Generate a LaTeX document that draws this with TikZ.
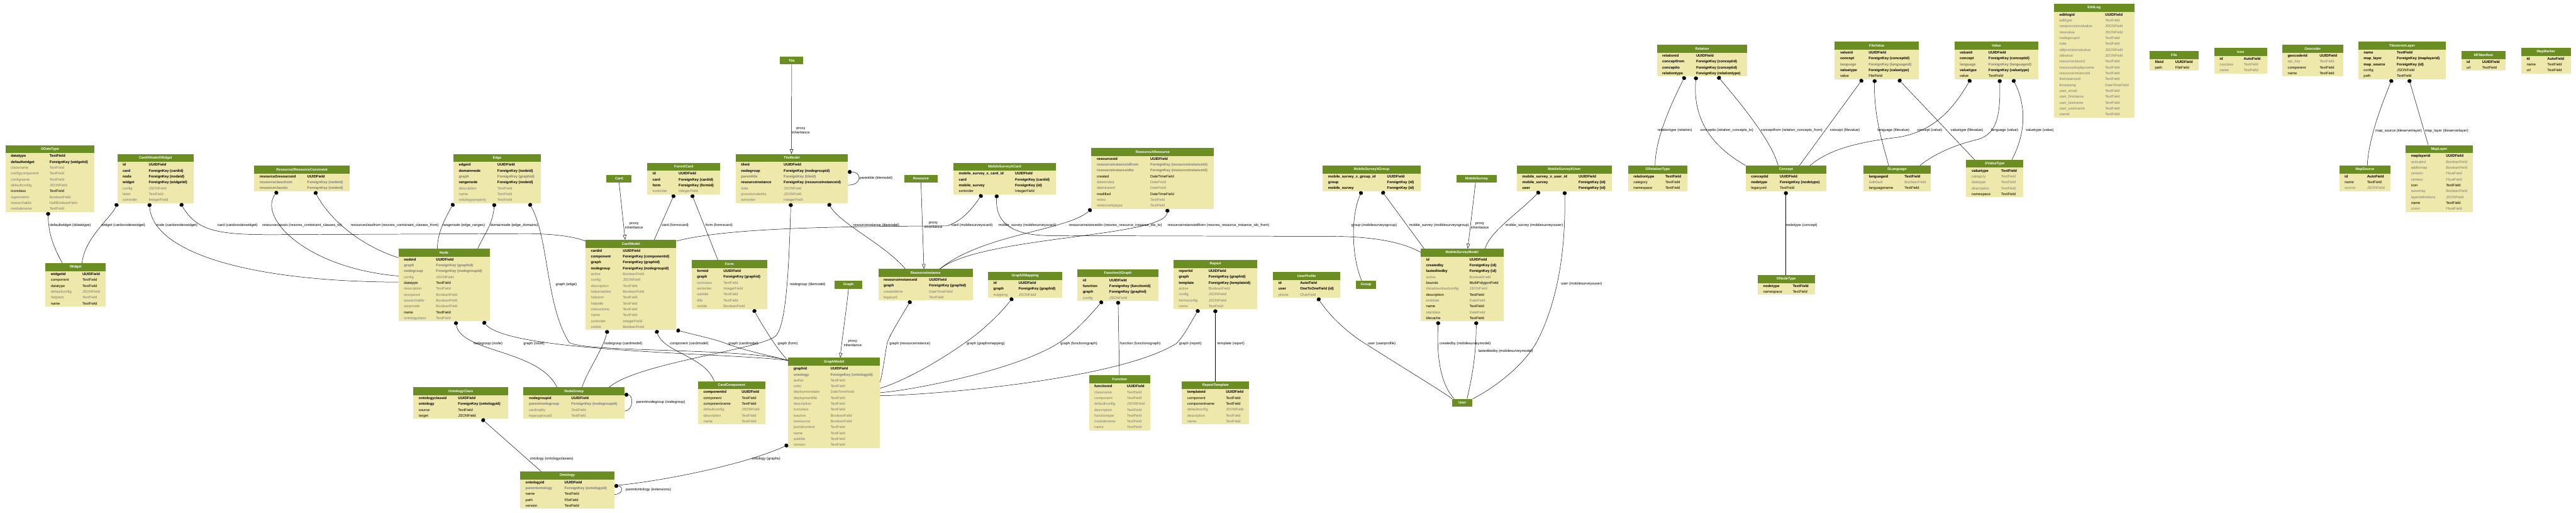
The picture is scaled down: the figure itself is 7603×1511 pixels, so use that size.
\documentclass[tikz,border=0pt]{standalone}
\usepackage{fontspec}
\setmainfont{Liberation Sans}
\usepackage{xcolor}
\usetikzlibrary{shapes.multipart,arrows.meta}

\definecolor{tblhead}{HTML}{6B8E23}
\definecolor{tblbody}{HTML}{EEE8AA}
\definecolor{fieldgray}{HTML}{7B7B7B}

\newlength\colA
\newlength\colB
\newcommand\rowstrut{\rule[-5.2pt]{0pt}{17.3pt}}
\newcommand\fldrow[3]{\makebox[\colA][l]{#1#2}&\makebox[\colB][l]{#1#3}\rowstrut\\}
\newcommand\keyf[2]{\fldrow{\bfseries}{#1}{#2}}
\newcommand\keyg[2]{\fldrow{\bfseries\color{fieldgray}}{#1}{#2}}
\newcommand\plainf[2]{\fldrow{}{#1}{#2}}
\newcommand\plaing[2]{\fldrow{\color{fieldgray}}{#1}{#2}}
\newcommand\hdfont{\fontsize{10.3}{12}\selectfont\bfseries}
% name, title, left, top, width, type column offset, rows
\newcommand\dbtable[7]{%
  \setlength\colA{\dimexpr#6pt-16pt\relax}%
  \setlength\colB{\dimexpr#5pt-#6pt\relax}%
  \node[tbl] (#1) at (#3,#4) {\parbox[c][23pt][c]{#5pt}{\centering\hdfont\color{white}#2}\nodepart{two}\begin{tabular}{@{\hspace{16pt}}l@{}l@{}}#7\end{tabular}};}

\begin{document}
\begin{tikzpicture}[x=1pt, y=-1pt, font=\fontsize{10.8}{13}\selectfont]
\fill[white] (0,0) rectangle (7603,1511);
\useasboundingbox (0,0) rectangle (7603,1511);

\begin{scope}[tbl/.style={rectangle split, rectangle split parts=2, rectangle split part fill={tblhead,tblbody}, inner sep=0pt, anchor=north west},
              hdonly/.style={fill=tblhead, text=white, font=\hdfont, inner sep=0pt, minimum height=23pt, anchor=north west}]
    \dbtable{DDataType}{DDataType}{16}{428}{263}{130}{%
      \keyf{datatype}{TextField}\keyf{defaultwidget}{ForeignKey (widgetid)}\plaing{classname}{TextField}
      \plaing{configcomponent}{TextField}\plaing{configname}{TextField}\plaing{defaultconfig}{JSONField}
      \plainf{iconclass}{TextField}\plaing{isgeometric}{BooleanField}\plaing{issearchable}{NullBooleanField}
      \plaing{modulename}{TextField}}
    \dbtable{CardXNodeXWidget}{CardXNodeXWidget}{346}{454}{226}{93}{%
      \keyf{id}{UUIDField}\keyf{card}{ForeignKey (cardid)}\keyf{node}{ForeignKey (nodeid)}
      \keyf{widget}{ForeignKey (widgetid)}\plaing{config}{JSONField}\plaing{label}{TextField}\plaing{sortorder}{IntegerField}}
    \dbtable{Resource2ResourceConstraint}{Resource2ResourceConstraint}{750}{488}{282}{157}{%
      \keyf{resource2resourceid}{UUIDField}\keyg{resourceclassfrom}{ForeignKey (nodeid)}\keyg{resourceclassto}{ForeignKey (nodeid)}}
    \dbtable{Widget}{Widget}{134}{776}{178}{109}{%
      \keyf{widgetid}{UUIDField}\plainf{component}{TextField}\plainf{datatype}{TextField}
      \plaing{defaultconfig}{JSONField}\plaing{helptext}{TextField}\plainf{name}{TextField}}
    \dbtable{Edge}{Edge}{1338}{454}{258}{130}{%
      \keyf{edgeid}{UUIDField}\keyf{domainnode}{ForeignKey (nodeid)}\keyg{graph}{ForeignKey (graphid)}
      \keyf{rangenode}{ForeignKey (nodeid)}\plaing{description}{TextField}\plaing{name}{TextField}\plaing{ontologyproperty}{TextField}}
    \node[hdonly, minimum width=74pt] (Card) at (1790,515) {Card};
    \dbtable{FormXCard}{FormXCard}{1910}{480}{216}{93}{%
      \keyf{id}{UUIDField}\keyf{card}{ForeignKey (cardid)}\keyf{form}{ForeignKey (formid)}\plaing{sortorder}{IntegerField}}
    \dbtable{Node}{Node}{1176}{733}{269}{111}{%
      \keyf{nodeid}{UUIDField}\keyg{graph}{ForeignKey (graphid)}\keyg{nodegroup}{ForeignKey (nodegroupid)}
      \plaing{config}{JSONField}\plainf{datatype}{TextField}\plaing{description}{TextField}\plaing{isrequired}{BooleanField}
      \plaing{issearchable}{BooleanField}\plaing{istopnode}{BooleanField}\plainf{name}{TextField}\plaing{ontologyclass}{TextField}}
    \dbtable{CardModel}{CardModel}{1728}{707}{268}{110}{%
      \keyf{cardid}{UUIDField}\keyf{component}{ForeignKey (componentid)}\keyf{graph}{ForeignKey (graphid)}
      \keyf{nodegroup}{ForeignKey (nodegroupid)}\plaing{active}{BooleanField}\plaing{config}{JSONField}
      \plaing{description}{TextField}\plaing{helpenabled}{BooleanField}\plaing{helptext}{TextField}\plaing{helptitle}{TextField}
      \plaing{instructions}{TextField}\plaing{name}{TextField}\plaing{sortorder}{IntegerField}\plaing{visible}{BooleanField}}
    \node[hdonly, minimum width=69pt] (Tile) at (2302,167) {Tile};
    \dbtable{TileModel}{TileModel}{2171}{454}{331}{142}{%
      \keyf{tileid}{UUIDField}\keyf{nodegroup}{ForeignKey (nodegroupid)}\keyg{parenttile}{ForeignKey (tileid)}
      \keyf{resourceinstance}{ForeignKey (resourceinstanceid)}\plaing{data}{JSONField}\plaing{provisionaledits}{JSONField}\plaing{sortorder}{IntegerField}}
    \node[hdonly, minimum width=98pt] (Resource) at (2669,515) {Resource};
    \dbtable{MobileSurveyXCard}{MobileSurveyXCard}{2814}{480}{302}{182}{%
      \keyf{mobile\_survey\_x\_card\_id}{UUIDField}\keyf{card}{ForeignKey (cardid)}\keyf{mobile\_survey}{ForeignKey (id)}\plainf{sortorder}{IntegerField}}
    \dbtable{Form}{Form}{2041}{767}{223}{94}{%
      \keyf{formid}{UUIDField}\keyf{graph}{ForeignKey (graphid)}\plaing{iconclass}{TextField}\plaing{sortorder}{IntegerField}
      \plaing{subtitle}{TextField}\plaing{title}{TextField}\plaing{visible}{BooleanField}}
    \node[hdonly, minimum width=82pt] (Graph) at (2463,828) {Graph};
    \dbtable{ResourceInstance}{ResourceInstance}{2592}{793}{279}{150}{%
      \keyf{resourceinstanceid}{UUIDField}\keyf{graph}{ForeignKey (graphid)}\plaing{createdtime}{DateTimeField}\plaing{legacyid}{TextField}}
    \dbtable{GraphXMapping}{GraphXMapping}{2916}{802}{219}{90}{%
      \keyf{id}{UUIDField}\keyf{graph}{ForeignKey (graphid)}\plaing{mapping}{JSONField}}
    \dbtable{ResourceXResource}{ResourceXResource}{3221}{436}{362}{174}{%
      \keyf{resourcexid}{UUIDField}\keyg{resourceinstanceidfrom}{ForeignKey (resourceinstanceid)}
      \keyg{resourceinstanceidto}{ForeignKey (resourceinstanceid)}\plainf{created}{DateTimeField}\plaing{dateended}{DateField}
      \plaing{datestarted}{DateField}\plainf{modified}{DateTimeField}\plaing{notes}{TextField}\plaing{relationshiptype}{TextField}}
    \dbtable{FunctionXGraph}{FunctionXGraph}{3180}{794}{238}{94}{%
      \keyf{id}{UUIDField}\keyf{function}{ForeignKey (functionid)}\keyf{graph}{ForeignKey (graphid)}\plaing{config}{JSONField}}
    \dbtable{Report}{Report}{3463}{767}{248}{104}{%
      \keyf{reportid}{UUIDField}\keyf{graph}{ForeignKey (graphid)}\keyf{template}{ForeignKey (templateid)}
      \plaing{active}{BooleanField}\plaing{config}{JSONField}\plaing{formsconfig}{JSONField}\plaing{name}{TextField}}
    \dbtable{UserProfile}{UserProfile}{3757}{802}{199}{80}{%
      \keyf{id}{AutoField}\keyf{user}{OneToOneField (id)}\plaing{phone}{CharField}}
    \dbtable{MobileSurveyXGroup}{MobileSurveyXGroup}{3904}{488}{288}{190}{%
      \keyf{mobile\_survey\_x\_group\_id}{UUIDField}\keyf{group}{ForeignKey (id)}\keyf{mobile\_survey}{ForeignKey (id)}}
    \node[hdonly, minimum width=120pt] (MobileSurvey) at (4298,515) {MobileSurvey};
    \dbtable{MobileSurveyXUser}{MobileSurveyXUser}{4477}{488}{280}{182}{%
      \keyf{mobile\_survey\_x\_user\_id}{UUIDField}\keyf{mobile\_survey}{ForeignKey (id)}\keyf{user}{ForeignKey (id)}}
    \node[hdonly, minimum width=59pt] (Group) at (4002,828) {Group};
    \dbtable{MobileSurveyModel}{MobileSurveyModel}{4193}{733}{244}{144}{%
      \keyf{id}{UUIDField}\keyf{createdby}{ForeignKey (id)}\keyf{lasteditedby}{ForeignKey (id)}\plaing{active}{BooleanField}
      \plainf{bounds}{MultiPolygonField}\plaing{datadownloadconfig}{JSONField}\plainf{description}{TextField}
      \plaing{enddate}{DateField}\plainf{name}{TextField}\plaing{startdate}{DateField}\plainf{tilecache}{TextField}}
    \dbtable{Function}{Function}{3214}{1107}{181}{112}{%
      \keyf{functionid}{UUIDField}\plaing{classname}{TextField}\plaing{component}{TextField}\plaing{defaultconfig}{JSONField}
      \plaing{description}{TextField}\plaing{functiontype}{TextField}\plaing{modulename}{TextField}\plaing{name}{TextField}}
    \dbtable{ReportTemplate}{ReportTemplate}{3488}{1124}{199}{130}{%
      \keyf{templateid}{UUIDField}\plainf{component}{TextField}\plainf{componentname}{TextField}
      \plaing{defaultconfig}{JSONField}\plaing{description}{TextField}\plaing{name}{TextField}}
    \node[hdonly, minimum width=60pt] (User) at (4286,1176) {User};
    \dbtable{OntologyClass}{OntologyClass}{1220}{1142}{279}{132}{%
      \keyf{ontologyclassid}{UUIDField}\keyf{ontology}{ForeignKey (ontologyid)}\plainf{source}{TextField}\plainf{target}{JSONField}}
    \dbtable{NodeGroup}{NodeGroup}{1545}{1142}{298}{141}{%
      \keyf{nodegroupid}{UUIDField}\keyg{parentnodegroup}{ForeignKey (nodegroupid)}\plaing{cardinality}{TextField}\plaing{legacygroupid}{TextField}}
    \dbtable{CardComponent}{CardComponent}{2060}{1124}{198}{129}{%
      \keyf{componentid}{UUIDField}\plainf{component}{TextField}\plainf{componentname}{TextField}
      \plaing{defaultconfig}{JSONField}\plaing{description}{TextField}\plaing{name}{TextField}}
    \dbtable{GraphModel}{GraphModel}{2326}{1055}{271}{125}{%
      \keyf{graphid}{UUIDField}\keyg{ontology}{ForeignKey (ontologyid)}\plaing{author}{TextField}\plaing{color}{TextField}
      \plaing{deploymentdate}{DateTimeField}\plaing{deploymentfile}{TextField}\plaing{description}{TextField}
      \plaing{iconclass}{TextField}\plaing{isactive}{BooleanField}\plaing{isresource}{BooleanField}
      \plaing{jsonldcontext}{TextField}\plaing{name}{TextField}\plaing{subtitle}{TextField}\plaing{version}{TextField}}
    \dbtable{Ontology}{Ontology}{1535}{1390}{278}{131}{%
      \keyf{ontologyid}{UUIDField}\keyg{parentontology}{ForeignKey (ontologyid)}\plainf{name}{TextField}
      \plainf{path}{FileField}\plainf{version}{TextField}}
    \dbtable{Relation}{Relation}{4890}{132}{267}{116}{%
      \keyf{relationid}{UUIDField}\keyf{conceptfrom}{ForeignKey (conceptid)}\keyf{conceptto}{ForeignKey (conceptid)}
      \keyf{relationtype}{ForeignKey (relationtype)}}
    \dbtable{FileValue}{FileValue}{5415}{123}{248}{100}{%
      \keyf{valueid}{UUIDField}\keyf{concept}{ForeignKey (conceptid)}\keyg{language}{ForeignKey (languageid)}
      \keyf{valuetype}{ForeignKey (valuetype)}\plainf{value}{FileField}}
    \dbtable{Value}{Value}{5768}{123}{248}{101}{%
      \keyf{valueid}{UUIDField}\keyf{concept}{ForeignKey (conceptid)}\keyg{language}{ForeignKey (languageid)}
      \keyf{valuetype}{ForeignKey (valuetype)}\plainf{value}{TextField}}
    \dbtable{DRelationType}{DRelationType}{4805}{488}{175}{110}{%
      \keyf{relationtype}{TextField}\plainf{category}{TextField}\plainf{namespace}{TextField}}
    \dbtable{Concept}{Concept}{5152}{488}{239}{101}{%
      \keyf{conceptid}{UUIDField}\keyf{nodetype}{ForeignKey (nodetype)}\plainf{legacyoid}{TextField}}
    \dbtable{DLanguage}{DLanguage}{5500}{488}{198}{121}{%
      \keyf{languageid}{TextField}\plaing{isdefault}{BooleanField}\plainf{languagename}{TextField}}
    \dbtable{DValueType}{DValueType}{5803}{471}{169}{103}{%
      \keyf{valuetype}{TextField}\plaing{category}{TextField}\plaing{datatype}{TextField}
      \plaing{description}{TextField}\plainf{namespace}{TextField}}
    \dbtable{DNodeType}{DNodeType}{5188}{811}{168}{103}{%
      \keyf{nodetype}{TextField}\plainf{namespace}{TextField}}
    \dbtable{EditLog}{EditLog}{6062}{11}{237}{151}{%
      \keyf{editlogid}{UUIDField}\plaing{edittype}{TextField}\plaing{newprovisionalvalue}{JSONField}
      \plaing{newvalue}{JSONField}\plaing{nodegroupid}{TextField}\plaing{note}{TextField}
      \plaing{oldprovisionalvalue}{JSONField}\plaing{oldvalue}{JSONField}\plaing{resourceclassid}{TextField}
      \plaing{resourcedisplayname}{TextField}\plaing{resourceinstanceid}{TextField}\plaing{tileinstanceid}{TextField}
      \plaing{timestamp}{DateTimeField}\plaing{user\_email}{TextField}\plaing{user\_firstname}{TextField}
      \plaing{user\_lastname}{TextField}\plaing{user\_username}{TextField}\plaing{userid}{TextField}}
    \dbtable{File}{File}{6344}{150}{145}{76}{%
      \keyf{fileid}{UUIDField}\plainf{path}{FileField}}
    \dbtable{Icon}{Icon}{6535}{141}{156}{87}{%
      \keyf{id}{AutoField}\plaing{cssclass}{TextField}\plaing{name}{TextField}}
    \dbtable{Geocoder}{Geocoder}{6736}{132}{179}{110}{%
      \keyf{geocoderid}{UUIDField}\plaing{api\_key}{TextField}\plainf{component}{TextField}\plainf{name}{TextField}}
    \dbtable{TileserverLayer}{TileserverLayer}{6960}{123}{259}{114}{%
      \keyf{name}{TextField}\keyf{map\_layer}{ForeignKey (maplayerid)}\keyf{map\_source}{ForeignKey (id)}
      \plainf{config}{JSONField}\plainf{path}{TextField}}
    \dbtable{IIIFManifest}{IIIFManifest}{7264}{150}{131}{62}{%
      \keyf{id}{UUIDField}\plainf{url}{TextField}}
    \dbtable{MapMarker}{MapMarker}{7441}{141}{146}{77}{%
      \keyf{id}{AutoField}\plainf{name}{TextField}\plainf{url}{TextField}}
    \dbtable{MapSource}{MapSource}{6904}{488}{151}{82}{%
      \keyf{id}{AutoField}\plainf{name}{TextField}\plaing{source}{JSONField}}
    \dbtable{MapLayer}{MapLayer}{7100}{428}{198}{119}{%
      \keyf{maplayerid}{UUIDField}\plaing{activated}{BooleanField}\plaing{addtomap}{BooleanField}
      \plaing{centerx}{FloatField}\plaing{centery}{FloatField}\plainf{icon}{TextField}\plaing{isoverlay}{BooleanField}
      \plaing{layerdefinitions}{JSONField}\plainf{name}{TextField}\plaing{zoom}{FloatField}}
\end{scope}

\begin{scope}[fk/.style={draw, line width=.9pt, arrows={Circle[length=11pt,width=12pt]-}},
              proxy/.style={draw, line width=.9pt, arrows={-Triangle[open,length=14pt,width=10pt]}},
              lbl/.style={anchor=west, inner sep=0pt}]
    % widgets, nodes, cards
    \draw[fk] ([xshift=126pt]DDataType.south west) .. controls (143,700) and (165,740) .. ([xshift=50pt]Widget.north west);
    \draw[fk] (CardXNodeXWidget.south west) .. controls (330,640) and (250,700) .. ([xshift=108pt]Widget.north west);
    \draw[fk] ([xshift=95pt]CardXNodeXWidget.south west) .. controls (450,740) and (720,830) .. ([yshift=-99pt]Node.north west);
    \draw[fk] ([xshift=187pt]CardXNodeXWidget.south west) .. controls (580,680) and (640,692) .. (800,692) -- (1560,689) .. controls (1650,690) and (1700,700) .. ([yshift=-4pt]CardModel.north west);
    \draw[fk] ([xshift=69pt]Resource2ResourceConstraint.south west) .. controls (760,640) and (900,790) .. ([yshift=-81pt]Node.north west);
    \draw[fk] ([xshift=179pt]Resource2ResourceConstraint.south west) .. controls (980,660) and (1080,730) .. ([yshift=-27pt]Node.north west);
    \draw[fk] ([xshift=1pt]Edge.south west) .. controls (1310,650) and (1291,690) .. ([xshift=115pt]Node.north west);
    \draw[fk] ([xshift=121pt]Edge.south west) .. controls (1455,660) and (1430,690) .. ([xshift=234pt]Node.north west);
    \draw[fk] ([xshift=224pt]Edge.south west) .. controls (1620,700) and (1610,900) .. (1680,1010) .. controls (1730,1040) and (2200,1025) .. ([yshift=-8pt]GraphModel.north west);
    \draw[proxy] (Card.south) -- ([xshift=117pt]CardModel.north west);
    \draw[fk] ([xshift=80pt]FormXCard.south west) -- ([xshift=203pt]CardModel.north west);
    \draw[fk] ([xshift=132pt]FormXCard.south west) -- ([xshift=78pt]Form.north west);
    \draw[fk] ([xshift=169pt]Node.south west) .. controls (1360,1040) and (1590,1030) .. ([xshift=99pt]NodeGroup.north west);
    \draw[fk] ([xshift=250pt]Node.south west) .. controls (1500,1040) and (2150,1040) .. ([yshift=-8pt]GraphModel.north west);
    \draw[fk] ([xshift=65pt]CardModel.south west) .. controls (1780,1030) and (1730,1100) .. ([xshift=173pt]NodeGroup.north west);
    \draw[fk] ([xshift=209pt]CardModel.south west) .. controls (1960,1040) and (2080,1050) .. ([xshift=48pt]CardComponent.north west);
    \draw[fk] (CardModel.south east) .. controls (2060,990) and (2110,1000) .. (2143,1013) .. controls (2200,1035) and (2280,1050) .. ([yshift=-8pt]GraphModel.north west);
    % tiles, resources, graphs
    \draw[proxy] (Tile.south) -- ([xshift=165pt]TileModel.north west);
    \draw[fk] ([yshift=-53pt]TileModel.north east) .. controls (2545,507) and (2545,546) .. ([yshift=-92pt]TileModel.north east);
    \draw[fk] ([xshift=163pt]TileModel.south west) .. controls (2328,820) and (2318,960) .. (2290,990) .. controls (2250,1030) and (1880,1070) .. ([xshift=253pt]NodeGroup.north west);
    \draw[fk] ([xshift=274pt]TileModel.south west) .. controls (2480,660) and (2610,720) .. ([xshift=80pt]ResourceInstance.north west);
    \draw[proxy] (Resource.south) -- ([xshift=135pt]ResourceInstance.north west);
    \draw[fk] ([xshift=84pt]MobileSurveyXCard.south west) .. controls (2860,630) and (2830,655) .. (2795,666) .. controls (2500,668) and (2150,670) .. ([yshift=-4pt]CardModel.north east);
    \draw[fk] ([xshift=128pt]MobileSurveyXCard.south west) .. controls (2937,660) and (2990,694) .. (3100,695) -- (3950,697) .. controls (4080,700) and (4150,720) .. ([yshift=-11pt]MobileSurveyModel.north west);
    \draw[fk] ([xshift=183pt]Form.south west) .. controls (2250,960) and (2300,1040) .. ([yshift=-8pt]GraphModel.north west);
    \draw[proxy] (Graph.south) .. controls (2500,900) and (2485,1000) .. ([xshift=154pt]GraphModel.north west);
    \draw[fk] ([xshift=96pt]ResourceInstance.south west) .. controls (2650,950) and (2625,990) .. (2618,1013) .. controls (2610,1060) and (2605,1100) .. ([yshift=-72pt]GraphModel.north east);
    \draw[fk] ([xshift=73pt]GraphXMapping.south west) .. controls (2940,940) and (2880,990) .. (2845,1013) .. controls (2750,1080) and (2650,1130) .. ([yshift=-90pt]GraphModel.north east);
    \draw[fk] (ResourceXResource.south west) .. controls (3150,680) and (2900,690) .. ([xshift=182pt]ResourceInstance.north west);
    \draw[fk] ([xshift=225pt]ResourceXResource.south west) .. controls (3440,700) and (2900,695) .. ([xshift=182pt]ResourceInstance.north west);
    \draw[fk] ([xshift=120pt]FunctionXGraph.south west) -- ([xshift=90pt]Function.north west);
    \draw[fk] ([xshift=74pt]FunctionXGraph.south west) .. controls (3200,950) and (3160,990) .. (3122,1013) .. controls (3000,1090) and (2700,1150) .. ([yshift=-103pt]GraphModel.north east);
    \draw[fk] ([xshift=75pt]Report.south west) .. controls (3515,950) and (3495,990) .. (3472,1013) .. controls (3300,1120) and (2750,1165) .. ([yshift=-112pt]GraphModel.north east);
    \draw[fk] ([xshift=124pt]Report.south west) -- ([xshift=99pt]ReportTemplate.north west);
    \draw[fk] ([xshift=132pt]UserProfile.south west) .. controls (3930,940) and (3990,990) .. (4029,1013) .. controls (4150,1090) and (4250,1150) .. (User.north west);
    % mobile surveys
    \draw[fk] ([xshift=115pt]MobileSurveyXGroup.south west) .. controls (3985,640) and (3990,760) .. ([xshift=17pt]Group.north west);
    \draw[fk] ([xshift=175pt]MobileSurveyXGroup.south west) -- ([xshift=10pt]MobileSurveyModel.north west);
    \draw[proxy] ([xshift=57pt]MobileSurvey.south west) -- ([xshift=139pt]MobileSurveyModel.north west);
    \draw[fk] ([xshift=67pt]MobileSurveyXUser.south west) .. controls (4480,630) and (4400,680) .. ([xshift=190pt]MobileSurveyModel.north west);
    \draw[fk] ([xshift=141pt]MobileSurveyXUser.south west) .. controls (4622,760) and (4590,900) .. (4540,1000) .. controls (4500,1080) and (4400,1150) .. (User.north east);
    \draw[fk] ([xshift=52pt]MobileSurveyModel.south west) .. controls (4240,1050) and (4250,1130) .. ([xshift=6pt]User.north west);
    \draw[fk] ([xshift=164pt]MobileSurveyModel.south west) .. controls (4357,1060) and (4340,1130) .. ([xshift=44pt]User.north west);
    % ontologies
    \draw[fk] ([xshift=202pt]OntologyClass.south west) -- ([xshift=62pt]Ontology.north west);
    \draw[fk] ([yshift=-22pt]NodeGroup.north east) .. controls (1870,1164) and (1870,1212) .. ([yshift=-70pt]NodeGroup.north east);
    \draw[fk] ([yshift=10pt]GraphModel.south west) .. controls (2200,1370) and (1950,1420) .. ([yshift=-42pt]Ontology.north east);
    \draw[fk] ([yshift=-43pt]Ontology.north east) .. controls (1840,1433) and (1840,1458) .. ([yshift=-68pt]Ontology.north east);
    % concepts
    \draw[fk] ([xshift=83pt]Relation.south west) .. controls (4920,330) and (4885,420) .. ([xshift=80pt]DRelationType.north west);
    \draw[fk] ([xshift=116pt]Relation.south west) .. controls (4995,350) and (5050,430) .. (Concept.north west);
    \draw[fk] ([xshift=180pt]Relation.south west) .. controls (5150,320) and (5230,420) .. ([xshift=96pt]Concept.north west);
    \draw[fk] ([xshift=82pt]FileValue.south west) -- ([xshift=159pt]Concept.north west);
    \draw[fk] ([xshift=118pt]FileValue.south west) .. controls (5530,350) and (5560,430) .. ([xshift=74pt]DLanguage.north west);
    \draw[fk] ([xshift=188pt]FileValue.south west) -- ([xshift=25pt]DValueType.north west);
    \draw[fk] ([xshift=48pt]Value.south west) .. controls (5760,330) and (5700,390) .. (5600,405) .. controls (5480,420) and (5400,440) .. ([xshift=190pt]Concept.north west);
    \draw[fk] ([xshift=134pt]Value.south west) .. controls (5905,350) and (5890,400) .. (5830,413) .. controls (5760,430) and (5700,460) .. ([xshift=167pt]DLanguage.north west);
    \draw[fk] ([xshift=173pt]Value.south west) .. controls (5985,320) and (5975,400) .. ([xshift=135pt]DValueType.north west);
    \draw[fk] ([xshift=119pt]Concept.south west) -- ([xshift=83pt]DNodeType.north west);
    % maps
    \draw[fk] ([xshift=100pt]TileserverLayer.south west) .. controls (7020,330) and (6990,420) .. ([xshift=83pt]MapSource.north west);
    \draw[fk] ([xshift=150pt]TileserverLayer.south west) -- ([xshift=67pt]MapLayer.north west);

    % labels
    \node[lbl] (lbDefWidget) at (147,664) {defaultwidget (ddatatype)};
    \node[lbl] (lbCxnWidget) at (300,664) {widget (cardxnodexwidget)};
    \node[lbl] (lbCxnNode) at (461,664) {node (cardxnodexwidget)};
    \node[lbl] (lbCxnCard) at (642,664) {card (cardxnodexwidget)};
    \node[lbl] (lbClassTo) at (774,664) {resourceclassto (resxres\_contstraint\_classes\_to)};
    \node[lbl] (lbClassFrom) at (1035,664) {resourceclassfrom (resxres\_contstraint\_classes\_from)};
    \node[lbl] (lbRange) at (1306,664) {rangenode (edge\_ranges)};
    \node[lbl] (lbDomain) at (1447,664) {domainnode (edge\_domains)};
    \node[lbl] (lbEdgeGraph) at (1640,839) {graph (edge)};
    \node[lbl, align=center] (lbCardProxy) at (1845,665) {proxy\\inheritance};
    \node[lbl] (lbFxcCard) at (1953,664) {card (formxcard)};
    \node[lbl] (lbFxcForm) at (2082,664) {form (formxcard)};
    \node[lbl] (lbNodeGroup) at (1397,1013) {nodegroup (node)};
    \node[lbl] (lbNodeGraph) at (1545,1013) {graph (node)};
    \node[lbl] (lbCmGroup) at (1783,1013) {nodegroup (cardmodel)};
    \node[lbl] (lbCmComp) at (1977,1013) {component (cardmodel)};
    \node[lbl] (lbCmGraph) at (2150,1013) {graph (cardmodel)};
    \node[lbl, align=center] (lbTileProxy) at (2337,386) {proxy\\inheritance};
    \node[lbl] (lbParentTile) at (2536,526) {parenttile (tilemodel)};
    \node[lbl] (lbTmGroup) at (2331,839) {nodegroup (tilemodel)};
    \node[lbl] (lbTmRes) at (2518,664) {resourceinstance (tilemodel)};
    \node[lbl, align=center] (lbResProxy) at (2728,664) {proxy\\inheritance};
    \node[lbl] (lbMxcCard) at (2808,664) {card (mobilesurveyxcard)};
    \node[lbl] (lbMxcSurvey) at (2947,665) {mobile\_survey (mobilesurveyxcard)};
    \node[lbl] (lbFormGraph) at (2295,1013) {graph (form)};
    \node[lbl, align=center] (lbGraphProxy) at (2490,1013) {proxy\\inheritance};
    \node[lbl] (lbRiGraph) at (2625,1013) {graph (resourceinstance)};
    \node[lbl] (lbGxmGraph) at (2853,1013) {graph (graphxmapping)};
    \node[lbl] (lbRxrTo) at (3155,665) {resourceinstanceidto (resxres\_resource\_instance\_ids\_to)};
    \node[lbl] (lbRxrFrom) at (3446,665) {resourceinstanceidfrom (resxres\_resource\_instance\_ids\_from)};
    \node[lbl] (lbFxgFunc) at (3306,1013) {function (functionxgraph)};
    \node[lbl] (lbFxgGraph) at (3130,1013) {graph (functionxgraph)};
    \node[lbl] (lbRepGraph) at (3480,1013) {graph (report)};
    \node[lbl] (lbRepTpl) at (3593,1013) {template (report)};
    \node[lbl] (lbUpUser) at (4037,1013) {user (userprofile)};
    \node[lbl] (lbMsxgGroup) at (3988,664) {group (mobilesurveyxgroup)};
    \node[lbl] (lbMsxgSurvey) at (4159,664) {mobile\_survey (mobilesurveyxgroup)};
    \node[lbl, align=center] (lbMsProxy) at (4341,665) {proxy\\inheritance};
    \node[lbl] (lbMsxuSurvey) at (4443,664) {mobile\_survey (mobilesurveyxuser)};
    \node[lbl] (lbMsxuUser) at (4607,838) {user (mobilesurveyxuser)};
    \node[lbl] (lbCreated) at (4249,1013) {createdby (mobilesurveymodel)};
    \node[lbl] (lbEdited) at (4363,1036) {lasteditedby (mobilesurveymodel)};
    \node[lbl] (lbOntClass) at (1564,1354) {ontology (ontologyclasses)};
    \node[lbl] (lbParentGroup) at (1878,1187) {parentnodegroup (nodegroup)};
    \node[lbl] (lbOntGraphs) at (2219,1354) {ontology (graphs)};
    \node[lbl] (lbParentOnt) at (1847,1444) {parentontology (extensions)};
    \node[lbl] (lbRelType) at (4892,385) {relationtype (relation)};
    \node[lbl] (lbConceptTo) at (5018,385) {conceptto (relation\_concepts\_to)};
    \node[lbl] (lbConceptFrom) at (5197,385) {conceptfrom (relation\_concepts\_from)};
    \node[lbl] (lbFvConcept) at (5401,385) {concept (filevalue)};
    \node[lbl] (lbFvLang) at (5541,385) {language (filevalue)};
    \node[lbl] (lbValConcept) at (5658,385) {concept (value)};
    \node[lbl] (lbFvType) at (5757,385) {valuetype (filevalue)};
    \node[lbl] (lbValLang) at (5876,385) {language (value)};
    \node[lbl] (lbValType) at (5979,385) {valuetype (value)};
    \node[lbl] (lbNodeType) at (5271,665) {nodetype (concept)};
    \node[lbl] (lbMapSource) at (7011,386) {map\_source (tileserverlayer)};
    \node[lbl] (lbMapLayer) at (7157,386) {map\_layer (tileserverlayer)};
\end{scope}
\end{tikzpicture}
\end{document}
